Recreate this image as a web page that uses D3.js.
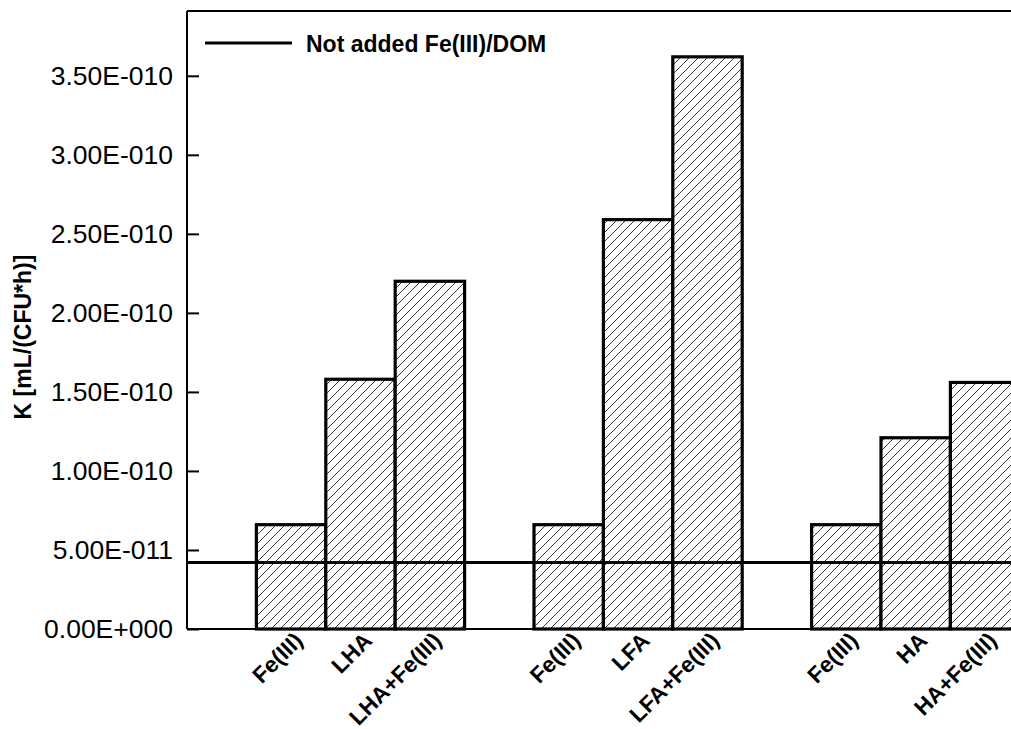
<!DOCTYPE html>
<html>
<head>
<meta charset="utf-8">
<script src="https://cdn.jsdelivr.net/npm/d3@7"></script>
<style>
body { margin: 0; background: #fff; }
text { font-family: "Liberation Sans", Arial, sans-serif; }
</style>
</head>
<body>
<div id="chart"></div>
<script>
// bars, left to right
var categories = ["Fe(III)", "LHA", "LHA+Fe(III)", "Fe(III)", "LFA", "LFA+Fe(III)", "Fe(III)", "HA", "HA+Fe(III)"];
var positions = [1, 2, 3, 5, 6, 7, 9, 10, 11];
var values = [6.6e-11, 1.58e-10, 2.2e-10, 6.6e-11, 2.59e-10, 3.62e-10, 6.6e-11, 1.21e-10, 1.56e-10];
var refValue = 4.2e-11;
var refLabel = "Not added Fe(III)/DOM";
var yTicks = [0, 5e-11, 1e-10, 1.5e-10, 2e-10, 2.5e-10, 3e-10, 3.5e-10];
var yTickLabels = ["0.00E+000", "5.00E-011", "1.00E-010", "1.50E-010", "2.00E-010", "2.50E-010", "3.00E-010", "3.50E-010"];
var yTitle = "K [mL/(CFU*h)]";

var W = 1011, H = 729;
var plotL = 187, plotT = 11, plotB = 629;
var unit = 69.4;

var x = d3.scaleLinear().domain([-0.5, 12.5]).range([plotL, plotL + 13 * unit]);
var y = d3.scaleLinear().domain([0, 3.91e-10]).range([plotB, plotT]);

var svg = d3.select("#chart").append("svg")
  .attr("width", W).attr("height", H);

var pat = svg.append("defs").append("pattern")
  .attr("id", "hatch")
  .attr("patternUnits", "userSpaceOnUse")
  .attr("width", 9).attr("height", 9);
pat.append("rect").attr("width", 9).attr("height", 9).attr("fill", "#fff");
pat.append("path")
  .attr("d", "M0,9 L9,0 M-2,2 L2,-2 M7,11 L11,7")
  .attr("stroke", "#222").attr("stroke-width", 0.9);

// bars
svg.selectAll("rect.bar")
  .data(values)
  .enter().append("rect")
  .attr("class", "bar")
  .attr("x", function(d, i) { return x(positions[i] - 0.5); })
  .attr("width", x(1) - x(0))
  .attr("y", function(d) { return y(d); })
  .attr("height", function(d) { return y(0) - y(d); })
  .attr("fill", "url(#hatch)")
  .attr("stroke", "#000")
  .attr("stroke-width", 3.2);

// reference line
svg.append("line")
  .attr("x1", plotL).attr("x2", W)
  .attr("y1", y(refValue)).attr("y2", y(refValue))
  .attr("stroke", "#000").attr("stroke-width", 3);

// frame
svg.append("line").attr("x1", plotL).attr("x2", plotL).attr("y1", plotT).attr("y2", plotB)
  .attr("stroke", "#000").attr("stroke-width", 2);
svg.append("line").attr("x1", plotL).attr("x2", W).attr("y1", plotB).attr("y2", plotB)
  .attr("stroke", "#000").attr("stroke-width", 2);
svg.append("line").attr("x1", plotL).attr("x2", W).attr("y1", plotT).attr("y2", plotT)
  .attr("stroke", "#000").attr("stroke-width", 2);

// y axis (ticks inside)
var yAxis = d3.axisLeft(y)
  .tickValues(yTicks)
  .tickSizeInner(-12)
  .tickSizeOuter(0)
  .tickPadding(14)
  .tickFormat(function(d, i) { return yTickLabels[i]; });

var ga = svg.append("g")
  .attr("transform", "translate(" + plotL + ",0)")
  .call(yAxis);
ga.select(".domain").remove();
ga.selectAll(".tick line").attr("stroke", "#000").attr("stroke-width", 2);
ga.selectAll(".tick text")
  .attr("font-size", 26.5)
  .attr("fill", "#000")
  .style("font-family", "'Liberation Sans', Arial, sans-serif");

// x labels
svg.selectAll("text.xlab")
  .data(categories)
  .enter().append("text")
  .attr("class", "xlab")
  .attr("transform", function(d, i) {
    return "translate(" + (x(positions[i]) + 13) + "," + 642 + ") rotate(-45)";
  })
  .attr("text-anchor", "end")
  .attr("font-size", 22.5)
  .attr("font-weight", "bold")
  .text(function(d) { return d; });

// y title
svg.append("text")
  .attr("transform", "translate(31,337) rotate(-90)")
  .attr("text-anchor", "middle")
  .attr("font-size", 23)
  .attr("font-weight", "bold")
  .text(yTitle);

// legend
svg.append("line")
  .attr("x1", 205).attr("x2", 292).attr("y1", 43).attr("y2", 43)
  .attr("stroke", "#000").attr("stroke-width", 3);
svg.append("text")
  .attr("x", 306).attr("y", 52)
  .attr("font-size", 23)
  .attr("font-weight", "bold")
  .text(refLabel);
</script>
</body>
</html>
